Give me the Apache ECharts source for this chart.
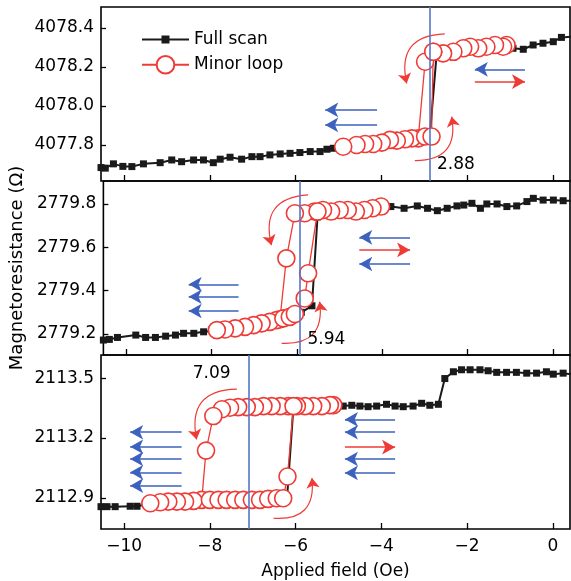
<!DOCTYPE html>
<html>
<head>
<meta charset="utf-8">
<script src="https://cdn.jsdelivr.net/npm/echarts@6/dist/echarts.min.js"></script>
<style>
  html, body { margin: 0; padding: 0; background: #fff; }
  #chart { width: 571px; height: 581px; }
</style>
</head>
<body>
<div id="chart"></div>
<script>
// ---- data ----
const xTicks = [-10, -8, -6, -4, -2, 0];
const yTicks1 = [4077.8, 4078.0, 4078.2, 4078.4];
const yTicks2 = [2779.2, 2779.4, 2779.6, 2779.8];
const yTicks3 = [2112.9, 2113.2, 2113.5];

const switchField = [-2.88, -5.94, -7.09];
const switchText = ['2.88', '5.94', '7.09'];
const switchTextPos = [[-2.26, 4077.70], [-5.31, 2779.172], [-7.96, 2113.525]];

// top panel
const fullScan1 = [
  [-10.54, 4077.684], [-10.44, 4077.681], [-10.25, 4077.703], [-10.03, 4077.690], [-9.82, 4077.689],
  [-9.55, 4077.703], [-9.16, 4077.709], [-8.89, 4077.723], [-8.66, 4077.714], [-8.38, 4077.723],
  [-8.15, 4077.723], [-7.92, 4077.709], [-7.76, 4077.727], [-7.53, 4077.737], [-7.26, 4077.727],
  [-7.02, 4077.740], [-6.83, 4077.740], [-6.60, 4077.749], [-6.36, 4077.754], [-6.13, 4077.757],
  [-5.90, 4077.761], [-5.66, 4077.766], [-5.43, 4077.766], [-5.27, 4077.778], [-5.12, 4077.783],
  [-4.90, 4077.790], [-4.60, 4077.800], [-4.30, 4077.805], [-4.00, 4077.812], [-3.70, 4077.820],
  [-3.40, 4077.830], [-3.10, 4077.835], [-2.87, 4077.845], [-2.71, 4078.270], [-2.40, 4078.278],
  [-2.10, 4078.290], [-1.80, 4078.300], [-1.50, 4078.305], [-1.20, 4078.305], [-0.93, 4078.296],
  [-0.69, 4078.291], [-0.46, 4078.313], [-0.23, 4078.322], [0.01, 4078.330], [0.20, 4078.352],
  [0.42, 4078.355]
];
const minorLoop1 = [
  [-1.08, 4078.313], [-1.16, 4078.304], [-1.35, 4078.313], [-1.55, 4078.304], [-1.74, 4078.296],
  [-1.93, 4078.304], [-2.09, 4078.296], [-2.32, 4078.278], [-2.56, 4078.270], [-2.79, 4078.278],
  [-2.98, 4078.227], [-3.14, 4077.834], [-3.29, 4077.834], [-3.45, 4077.829], [-3.64, 4077.822],
  [-3.80, 4077.826], [-3.99, 4077.812], [-4.19, 4077.805], [-4.38, 4077.805], [-4.58, 4077.800],
  [-4.89, 4077.791], null,
  [-2.98, 4077.843], [-2.83, 4077.843], [-2.79, 4078.278]
];
const blueArrows1 = [[-5.31, -4.10, 4077.980], [-5.31, -4.10, 4077.903], [-1.82, -0.65, 4078.188]];
const redArrows1 = [[-1.82, -0.65, 4078.125]];
const curls1 = [[-3.41, 4078.116, -2.52, 4078.370], [-2.36, 4077.945, -3.22, 4077.720]];

// middle panel
const fullScan2 = [
  [-10.54, 2779.172], [-10.40, 2779.175], [-10.21, 2779.184], [-9.78, 2779.195], [-9.55, 2779.184],
  [-9.32, 2779.184], [-9.08, 2779.190], [-8.85, 2779.195], [-8.66, 2779.203], [-8.42, 2779.203],
  [-8.19, 2779.210], [-7.90, 2779.215], [-7.50, 2779.225], [-7.10, 2779.238], [-6.70, 2779.255],
  [-6.30, 2779.270], [-5.90, 2779.300], [-5.65, 2779.330], [-5.52, 2779.740], [-5.30, 2779.770],
  [-5.00, 2779.775], [-4.60, 2779.770], [-4.20, 2779.780], [-3.80, 2779.788], [-3.49, 2779.780],
  [-3.18, 2779.791], [-2.94, 2779.780], [-2.71, 2779.769], [-2.48, 2779.780], [-2.25, 2779.791],
  [-2.09, 2779.795], [-1.90, 2779.803], [-1.70, 2779.780], [-1.55, 2779.800], [-1.31, 2779.800],
  [-1.08, 2779.788], [-0.85, 2779.791], [-0.61, 2779.811], [-0.46, 2779.826], [-0.23, 2779.818],
  [0.01, 2779.818], [0.24, 2779.815], [0.42, 2779.815]
];
const minorLoop2 = [
  [-4.03, 2779.788], [-4.23, 2779.780], [-4.42, 2779.772], [-4.62, 2779.765], [-4.81, 2779.772],
  [-5.00, 2779.772], [-5.20, 2779.765], [-5.39, 2779.772], [-5.59, 2779.765], [-5.82, 2779.757],
  [-6.05, 2779.757], [-6.25, 2779.549], [-6.40, 2779.268], [-6.48, 2779.264], [-6.64, 2779.256],
  [-6.83, 2779.249], [-7.02, 2779.241], [-7.22, 2779.233], [-7.45, 2779.226], [-7.69, 2779.221],
  [-7.88, 2779.218], null,
  [-6.32, 2779.272], [-6.17, 2779.279], [-6.05, 2779.292], [-5.82, 2779.364], [-5.74, 2779.480],
  [-5.52, 2779.765]
];
const blueArrows2 = [[-8.54, -7.37, 2779.429], [-8.54, -7.37, 2779.372], [-8.54, -7.37, 2779.306],
  [-4.54, -3.35, 2779.646], [-4.54, -3.35, 2779.523]];
const redArrows2 = [[-4.54, -3.35, 2779.588]];
const curls2 = [[-6.60, 2779.610, -5.74, 2779.842], [-5.47, 2779.349, -6.36, 2779.157]];

// bottom panel
const fullScan3 = [
  [-10.54, 2112.856], [-10.40, 2112.856], [-10.21, 2112.856], [-9.86, 2112.858], [-9.70, 2112.858],
  [-9.40, 2112.870], [-9.00, 2112.875], [-8.60, 2112.880], [-8.20, 2112.885], [-7.80, 2112.890],
  [-7.40, 2112.890], [-7.00, 2112.890], [-6.60, 2112.895], [-6.20, 2112.900], [-6.05, 2113.360],
  [-5.80, 2113.360], [-5.50, 2113.360], [-5.20, 2113.360], [-4.89, 2113.360], [-4.69, 2113.364],
  [-4.50, 2113.360], [-4.31, 2113.357], [-4.11, 2113.360], [-3.88, 2113.369], [-3.68, 2113.360],
  [-3.49, 2113.357], [-3.26, 2113.360], [-3.06, 2113.374], [-2.87, 2113.364], [-2.67, 2113.369],
  [-2.52, 2113.498], [-2.32, 2113.532], [-2.13, 2113.542], [-1.93, 2113.542], [-1.70, 2113.542],
  [-1.51, 2113.537], [-1.31, 2113.529], [-1.08, 2113.529], [-0.85, 2113.529], [-0.61, 2113.525],
  [-0.38, 2113.525], [-0.15, 2113.532], [0.01, 2113.520], [0.24, 2113.525], [0.42, 2113.520]
];
const minorLoop3 = [
  [-5.12, 2113.365], [-5.20, 2113.365], [-5.39, 2113.360], [-5.59, 2113.360], [-5.78, 2113.360],
  [-5.97, 2113.360], [-6.17, 2113.360], [-6.36, 2113.360], [-6.56, 2113.360], [-6.75, 2113.360],
  [-6.95, 2113.355], [-7.14, 2113.355], [-7.34, 2113.355], [-7.53, 2113.352], [-7.72, 2113.344],
  [-7.92, 2113.310], [-8.09, 2113.137], [-8.19, 2112.890], [-8.38, 2112.885], [-8.58, 2112.881],
  [-8.77, 2112.881], [-8.97, 2112.881], [-9.16, 2112.878], [-9.39, 2112.873], null,
  [-8.00, 2112.890], [-7.80, 2112.890], [-7.61, 2112.890], [-7.41, 2112.890], [-7.22, 2112.890],
  [-7.02, 2112.890], [-6.83, 2112.890], [-6.64, 2112.895], [-6.44, 2112.898], [-6.29, 2112.898],
  [-6.19, 2113.007], [-6.05, 2113.360]
];
const blueArrows3 = [[-9.86, -8.66, 2113.229], [-9.86, -8.66, 2113.156], [-9.86, -8.66, 2113.095],
  [-9.86, -8.66, 2113.028], [-9.86, -8.66, 2112.961],
  [-4.85, -3.68, 2113.293], [-4.85, -3.68, 2113.229], [-4.85, -3.68, 2113.095], [-4.85, -3.68, 2113.025]];
const redArrows3 = [[-4.85, -3.68, 2113.154]];
const curls3 = [[-8.31, 2113.193, -7.37, 2113.445], [-5.62, 2112.999, -6.52, 2112.798]];

// ---- chart ----
const FONT = 'DejaVu Sans';
const BLUE = '#3d62bd';
const RED = '#ee3b36';
const chart = echarts.init(document.getElementById('chart'));

const panels = [
  { full: fullScan1, loop: minorLoop1, ticks: yTicks1, min: 4077.615, max: 4078.508,
    blue: blueArrows1, red: redArrows1, curls: curls1 },
  { full: fullScan2, loop: minorLoop2, ticks: yTicks2, min: 2779.103, max: 2779.906,
    blue: blueArrows2, red: redArrows2, curls: curls2 },
  { full: fullScan3, loop: minorLoop3, ticks: yTicks3, min: 2112.744, max: 2113.616,
    blue: blueArrows3, red: redArrows3, curls: curls3 }
];
const gridTops = [7, 181, 355];

const minus = v => (v < 0 ? '\u2212' + Math.abs(v) : String(v));

const grids = [], xAxes = [], yAxes = [], series = [];
panels.forEach((p, i) => {
  // the frame comes from the grid border, axis lines are hidden
  grids.push({ left: 101, right: 1, top: gridTops[i], height: 174,
    show: true, borderColor: '#000', borderWidth: 1.6 });
  const last = i === 2;
  xAxes.push({
    type: 'value', gridIndex: i, min: -10.54, max: 0.4,
    splitLine: { show: false },
    axisLine: { show: false, onZero: false },
    axisTick: { inside: true, length: 6, customValues: xTicks, lineStyle: { color: '#000', width: 1.3 } },
    axisLabel: { show: last, customValues: xTicks, formatter: minus, color: '#000',
      fontFamily: FONT, fontSize: 17, margin: 9 },
    name: last ? 'Applied field (Oe)' : '', nameLocation: 'middle', nameGap: 34,
    nameTextStyle: { color: '#000', fontFamily: FONT, fontSize: 17 }
  });
  yAxes.push({
    type: 'value', gridIndex: i, min: p.min, max: p.max,
    splitLine: { show: false },
    axisLine: { show: false, onZero: false },
    axisTick: { show: true, inside: true, length: 5, customValues: p.ticks, lineStyle: { color: '#000', width: 1.3 } },
    axisLabel: { customValues: p.ticks, formatter: v => v.toFixed(1), color: '#000',
      fontFamily: FONT, fontSize: 17, margin: 7 },
    name: i === 1 ? 'Magnetoresistance (\u03a9)' : '', nameLocation: 'middle', nameGap: 76,
    nameTextStyle: { color: '#000', fontFamily: FONT, fontSize: 18 }
  });

  // straight sweep-direction arrows and the switching-field line
  const arrowLines = [];
  p.blue.forEach(a => arrowLines.push([
    { coord: [a[0], a[2]], lineStyle: { color: BLUE }, itemStyle: { color: BLUE } },
    { coord: [a[1], a[2]] }
  ]));
  p.red.forEach(a => arrowLines.push([
    { coord: [a[1], a[2]], lineStyle: { color: RED }, itemStyle: { color: RED } },
    { coord: [a[0], a[2]] }
  ]));
  arrowLines.push({ xAxis: switchField[i], symbol: 'none',
    lineStyle: { color: '#5577c9', width: 1.6, type: 'solid' } });

  series.push({
    name: 'Full scan', type: 'line', xAxisIndex: i, yAxisIndex: i,
    data: p.full, symbol: 'rect', symbolSize: 7, showAllSymbol: true,
    lineStyle: { color: '#1a1a1a', width: 2 }, itemStyle: { color: '#1a1a1a' },
    animation: false, silent: true
  });
  series.push({
    name: 'Minor loop', type: 'line', xAxisIndex: i, yAxisIndex: i,
    data: p.loop, symbol: 'circle', symbolSize: 17, showAllSymbol: true, connectNulls: false,
    lineStyle: { color: RED, width: 1.3 },
    itemStyle: { color: '#fff', borderColor: RED, borderWidth: 1.6 },
    animation: false, silent: true,
    markLine: {
      silent: true, animation: false, symbol: ['arrow', 'none'], symbolSize: [11, 13],
      label: { show: false },
      lineStyle: { width: 1.6, type: 'solid' },
      data: arrowLines
    },
    markPoint: {
      silent: true, animation: false, symbol: 'circle', symbolSize: 1,
      itemStyle: { color: 'rgba(0,0,0,0)' },
      label: { show: true, position: 'inside', color: '#000', fontFamily: FONT, fontSize: 17,
        formatter: switchText[i] },
      data: [{ coord: switchTextPos[i] }]
    }
  });
  // curved arrows around the loop corners
  series.push({
    type: 'lines', coordinateSystem: 'cartesian2d', xAxisIndex: i, yAxisIndex: i,
    symbol: ['arrow', 'none'], symbolSize: 10, silent: true, animation: false, z: 3,
    lineStyle: { color: RED, width: 1.2, curveness: 0.6, opacity: 1 },
    data: p.curls.map(c => ({ coords: [[c[0], c[1]], [c[2], c[3]]] }))
  });
});

chart.setOption({
  backgroundColor: '#fff',
  animation: false,
  grid: grids,
  xAxis: xAxes,
  yAxis: yAxes,
  legend: [
    { data: ['Full scan'], left: 141, top: 31, padding: 0, itemWidth: 47, itemHeight: 10,
      selectedMode: false, textStyle: { color: '#000', fontFamily: FONT, fontSize: 17 } },
    { data: ['Minor loop'], left: 141, top: 55, padding: 0, itemWidth: 47, itemHeight: 22,
      selectedMode: false, textStyle: { color: '#000', fontFamily: FONT, fontSize: 17 } }
  ],
  series: series
});
</script>
</body>
</html>
